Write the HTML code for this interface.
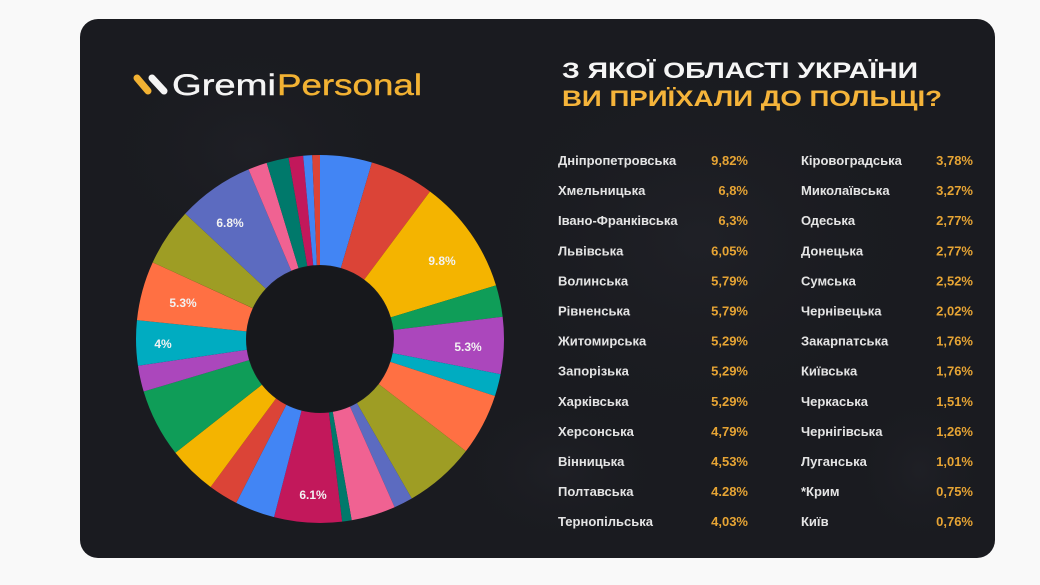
<!DOCTYPE html>
<html>
<head>
<meta charset="utf-8">
<style>
html,body{margin:0;padding:0;background:#f9f9f9;width:1040px;height:585px;overflow:hidden;}
svg{display:block;}
text{font-family:"Liberation Sans","DejaVu Sans",sans-serif;}
</style>
</head>
<body>
<svg width="1040" height="585" viewBox="0 0 1040 585" xmlns="http://www.w3.org/2000/svg">
  <rect x="0" y="0" width="1040" height="585" fill="#f9f9f9"/>
  <defs>
    <radialGradient id="blob1" cx="0.5" cy="0.5" r="0.5">
      <stop offset="0" stop-color="#24252c" stop-opacity="0.9"/>
      <stop offset="1" stop-color="#1b1c21" stop-opacity="0"/>
    </radialGradient>
  </defs>
  <rect x="80" y="19" width="915" height="539" rx="18" fill="#1a1b20"/>
  <ellipse cx="700" cy="240" rx="240" ry="200" fill="url(#blob1)" opacity="0.6"/>
  <ellipse cx="250" cy="150" rx="160" ry="120" fill="url(#blob1)" opacity="0.5"/>
  <ellipse cx="560" cy="470" rx="110" ry="80" fill="url(#blob1)" opacity="0.5"/>
  <ellipse cx="920" cy="470" rx="70" ry="80" fill="url(#blob1)" opacity="0.5"/>

  <!-- Logo -->
  <line x1="137" y1="78" x2="148" y2="91" stroke="#f2b233" stroke-width="7" stroke-linecap="round"/>
  <line x1="152" y1="78" x2="164" y2="91" stroke="#f4f4f4" stroke-width="7" stroke-linecap="round"/>
  <text x="172" y="95" font-size="30" fill="#f4f4f4" textLength="104" lengthAdjust="spacingAndGlyphs" stroke="#f4f4f4" stroke-width="0.4">Gremi</text>
  <text x="277" y="95" font-size="30" fill="#f2b233" textLength="145" lengthAdjust="spacingAndGlyphs" stroke="#f2b233" stroke-width="0.4">Personal</text>

  <!-- Title -->
  <text x="562" y="78" font-size="22" font-weight="bold" fill="#f5f5f5" textLength="356" lengthAdjust="spacingAndGlyphs">З ЯКОЇ ОБЛАСТІ УКРАЇНИ</text>
  <text x="562" y="106" font-size="22" font-weight="bold" fill="#f5b43a" textLength="380" lengthAdjust="spacingAndGlyphs">ВИ ПРИЇХАЛИ ДО ПОЛЬЩІ?</text>

  <!-- Donut -->
  <g transform="rotate(-90 320 339)" fill="none" stroke-width="110">
    <circle cx="320" cy="339" r="129" stroke="#4285f4" stroke-dasharray="36.92 1000" stroke-dashoffset="0"/>
    <circle cx="320" cy="339" r="129" stroke="#db4437" stroke-dasharray="45.71 1000" stroke-dashoffset="-36.92"/>
    <circle cx="320" cy="339" r="129" stroke="#f4b400" stroke-dasharray="81.73 1000" stroke-dashoffset="-82.63"/>
    <circle cx="320" cy="339" r="129" stroke="#0f9d58" stroke-dasharray="22.52 1000" stroke-dashoffset="-164.36"/>
    <circle cx="320" cy="339" r="129" stroke="#ab47bc" stroke-dasharray="40.53 1000" stroke-dashoffset="-186.87"/>
    <circle cx="320" cy="339" r="129" stroke="#00acc1" stroke-dasharray="15.76 1000" stroke-dashoffset="-227.40"/>
    <circle cx="320" cy="339" r="129" stroke="#ff7043" stroke-dasharray="43.90 1000" stroke-dashoffset="-243.16"/>
    <circle cx="320" cy="339" r="129" stroke="#9e9d24" stroke-dasharray="50.66 1000" stroke-dashoffset="-287.07"/>
    <circle cx="320" cy="339" r="129" stroke="#5c6bc0" stroke-dasharray="13.51 1000" stroke-dashoffset="-337.73"/>
    <circle cx="320" cy="339" r="129" stroke="#f06292" stroke-dasharray="31.52 1000" stroke-dashoffset="-351.23"/>
    <circle cx="320" cy="339" r="129" stroke="#00796b" stroke-dasharray="6.75 1000" stroke-dashoffset="-382.76"/>
    <circle cx="320" cy="339" r="129" stroke="#c2185b" stroke-dasharray="48.18 1000" stroke-dashoffset="-389.51"/>
    <circle cx="320" cy="339" r="129" stroke="#4285f4" stroke-dasharray="28.37 1000" stroke-dashoffset="-437.69"/>
    <circle cx="320" cy="339" r="129" stroke="#db4437" stroke-dasharray="21.16 1000" stroke-dashoffset="-466.06"/>
    <circle cx="320" cy="339" r="129" stroke="#f4b400" stroke-dasharray="34.45 1000" stroke-dashoffset="-487.22"/>
    <circle cx="320" cy="339" r="129" stroke="#0f9d58" stroke-dasharray="48.63 1000" stroke-dashoffset="-521.67"/>
    <circle cx="320" cy="339" r="129" stroke="#ab47bc" stroke-dasharray="18.46 1000" stroke-dashoffset="-570.30"/>
    <circle cx="320" cy="339" r="129" stroke="#00acc1" stroke-dasharray="32.20 1000" stroke-dashoffset="-588.77"/>
    <circle cx="320" cy="339" r="129" stroke="#ff7043" stroke-dasharray="42.10 1000" stroke-dashoffset="-620.96"/>
    <circle cx="320" cy="339" r="129" stroke="#9e9d24" stroke-dasharray="41.20 1000" stroke-dashoffset="-663.07"/>
    <circle cx="320" cy="339" r="129" stroke="#5c6bc0" stroke-dasharray="54.49 1000" stroke-dashoffset="-704.27"/>
    <circle cx="320" cy="339" r="129" stroke="#f06292" stroke-dasharray="13.51 1000" stroke-dashoffset="-758.76"/>
    <circle cx="320" cy="339" r="129" stroke="#00796b" stroke-dasharray="15.76 1000" stroke-dashoffset="-772.26"/>
    <circle cx="320" cy="339" r="129" stroke="#c2185b" stroke-dasharray="10.36 1000" stroke-dashoffset="-788.03"/>
    <circle cx="320" cy="339" r="129" stroke="#4285f4" stroke-dasharray="6.30 1000" stroke-dashoffset="-798.38"/>
    <circle cx="320" cy="339" r="129" stroke="#db4437" stroke-dasharray="5.85 1000" stroke-dashoffset="-804.69"/>
  </g>
  <circle cx="320" cy="339" r="73" fill="#17181c"/>

  <!-- Pie labels -->
  <g font-size="12" font-weight="bold" fill="#f2f2f2" text-anchor="middle">
    <text x="442" y="265">9.8%</text>
    <text x="468" y="351">5.3%</text>
    <text x="313" y="499">6.1%</text>
    <text x="163" y="348">4%</text>
    <text x="183" y="307">5.3%</text>
    <text x="230" y="227">6.8%</text>
  </g>

  <!-- Left column -->
  <g font-size="13" font-weight="bold" fill="#e4e4e4">
    <text x="558" y="165">Дніпропетровська</text>
    <text x="558" y="195.1">Хмельницька</text>
    <text x="558" y="225.2">Івано-Франківська</text>
    <text x="558" y="255.3">Львівська</text>
    <text x="558" y="285.4">Волинська</text>
    <text x="558" y="315.5">Рівненська</text>
    <text x="558" y="345.6">Житомирська</text>
    <text x="558" y="375.7">Запорізька</text>
    <text x="558" y="405.8">Харківська</text>
    <text x="558" y="435.9">Херсонська</text>
    <text x="558" y="466">Вінницька</text>
    <text x="558" y="496.1">Полтавська</text>
    <text x="558" y="526.2">Тернопільська</text>
  </g>
  <g font-size="13" font-weight="bold" fill="#e6a434" text-anchor="end">
    <text x="748" y="165">9,82%</text>
    <text x="748" y="195.1">6,8%</text>
    <text x="748" y="225.2">6,3%</text>
    <text x="748" y="255.3">6,05%</text>
    <text x="748" y="285.4">5,79%</text>
    <text x="748" y="315.5">5,79%</text>
    <text x="748" y="345.6">5,29%</text>
    <text x="748" y="375.7">5,29%</text>
    <text x="748" y="405.8">5,29%</text>
    <text x="748" y="435.9">4,79%</text>
    <text x="748" y="466">4,53%</text>
    <text x="748" y="496.1">4.28%</text>
    <text x="748" y="526.2">4,03%</text>
  </g>

  <!-- Right column -->
  <g font-size="13" font-weight="bold" fill="#e4e4e4">
    <text x="801" y="165">Кіровоградська</text>
    <text x="801" y="195.1">Миколаївська</text>
    <text x="801" y="225.2">Одеська</text>
    <text x="801" y="255.3">Донецька</text>
    <text x="801" y="285.4">Сумська</text>
    <text x="801" y="315.5">Чернівецька</text>
    <text x="801" y="345.6">Закарпатська</text>
    <text x="801" y="375.7">Київська</text>
    <text x="801" y="405.8">Черкаська</text>
    <text x="801" y="435.9">Чернігівська</text>
    <text x="801" y="466">Луганська</text>
    <text x="801" y="496.1">*Крим</text>
    <text x="801" y="526.2">Київ</text>
  </g>
  <g font-size="13" font-weight="bold" fill="#e6a434" text-anchor="end">
    <text x="973" y="165">3,78%</text>
    <text x="973" y="195.1">3,27%</text>
    <text x="973" y="225.2">2,77%</text>
    <text x="973" y="255.3">2,77%</text>
    <text x="973" y="285.4">2,52%</text>
    <text x="973" y="315.5">2,02%</text>
    <text x="973" y="345.6">1,76%</text>
    <text x="973" y="375.7">1,76%</text>
    <text x="973" y="405.8">1,51%</text>
    <text x="973" y="435.9">1,26%</text>
    <text x="973" y="466">1,01%</text>
    <text x="973" y="496.1">0,75%</text>
    <text x="973" y="526.2">0,76%</text>
  </g>
</svg>
</body>
</html>
